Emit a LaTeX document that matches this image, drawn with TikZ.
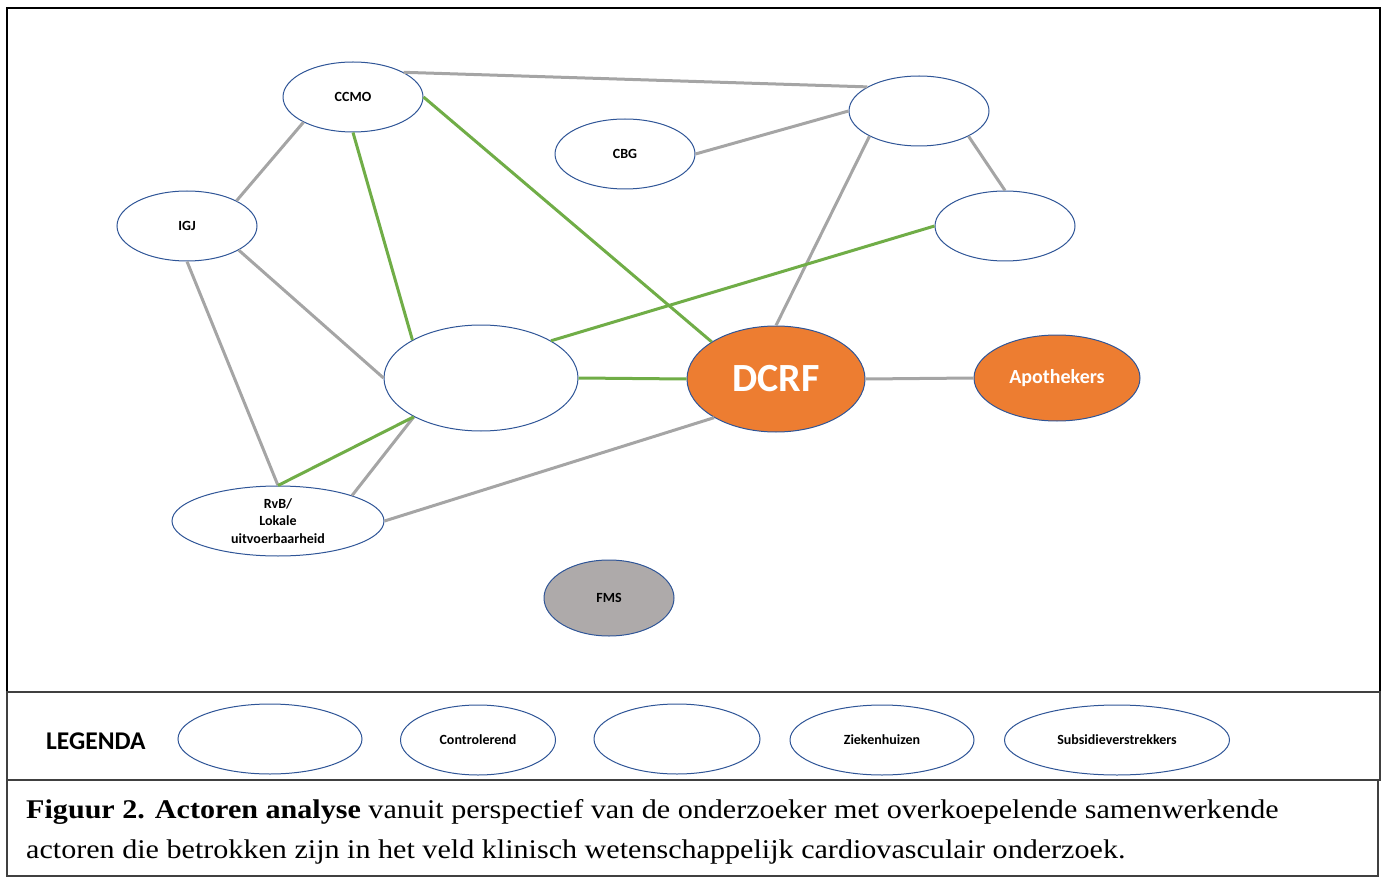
\documentclass[tikz,border=0pt]{standalone}
\usepackage{fontspec}
\setmainfont{Liberation Serif}
\newfontfamily\capfont[FakeStretch=1.115]{Liberation Serif}
\newfontfamily\calfont{Carlito}
\usetikzlibrary{shapes.geometric}
\definecolor{edgeblue}{HTML}{2F5597}
\definecolor{lgray}{HTML}{A5A5A5}
\definecolor{lgreen}{HTML}{70AD47}
\definecolor{orng}{HTML}{ED7D31}
\definecolor{fmsgray}{HTML}{AEAAAA}
\definecolor{framegray}{HTML}{404040}
\tikzset{
  actor/.style={ellipse, draw=edgeblue, line width=1pt, fill=white, inner sep=0pt,
    font=\calfont\bfseries\fontsize{14}{17.5}\selectfont, align=center},
  gl/.style={draw=lgray, line width=3pt},
  gn/.style={draw=lgreen, line width=3pt},
  captext/.style={anchor=base west, inner sep=0pt, font=\capfont\fontsize{27}{32}\selectfont},
}
\begin{document}
\begin{tikzpicture}[x=1pt,y=-1pt]
\useasboundingbox (0,0) rectangle (1381,877);
% frames
\draw[line width=2pt, black] (7,8) rectangle (1380,692);
\draw[line width=2pt, framegray] (7,692) rectangle (1380,780);
\draw[line width=1.5pt, framegray] (7,780) rectangle (1378,876);
% nodes
\node[actor, minimum width=140pt, minimum height=70pt] (ccmo) at (353,97) {CCMO};
\node[actor, minimum width=140pt, minimum height=70pt] (cbg) at (625,154) {CBG};
\node[actor, minimum width=140pt, minimum height=70pt] (tr) at (919,111) {};
\node[actor, minimum width=140pt, minimum height=70pt] (re) at (1005,226) {};
\node[actor, minimum width=140pt, minimum height=70pt] (igj) at (187,226) {IGJ};
\node[actor, minimum width=194pt, minimum height=106pt] (big) at (481,378) {};
\node[actor, fill=orng, text=white, minimum width=178pt, minimum height=106pt,
      font=\calfont\bfseries\fontsize{40}{42}\selectfont] (dcrf) at (776,379) {DCRF};
\node[actor, fill=orng, text=white, minimum width=166pt, minimum height=86pt,
      font=\calfont\bfseries\fontsize{20}{22}\selectfont] (apo) at (1057,378) {Apothekers};
\node[actor, minimum width=212pt, minimum height=70pt] (rvb) at (278,521) {RvB/\\Lokale\\uitvoerbaarheid};
\node[actor, fill=fmsgray, minimum width=130pt, minimum height=76pt] (fms) at (609,598) {FMS};
% gray connectors
\draw[gl] (ccmo.26) -- (tr.155);
\draw[gl] (cbg.east) -- (tr.west);
\draw[gl] (ccmo.207) -- (igj.27);
\draw[gl] (tr.207) -- (dcrf.north);
\draw[gl] (tr.333) -- (re.north);
\draw[gl] (igj.335) -- (big.west);
\draw[gl] (igj.south) -- (rvb.north);
\draw[gl] (big.210) -- (rvb.19);
\draw[gl] (rvb.east) -- (dcrf.212);
\draw[gl] (dcrf.east) -- (apo.west);
% green connectors
\draw[gn] (ccmo.east) -- (dcrf.150);
\draw[gn] (ccmo.south) -- (big.151);
\draw[gn] (big.28) -- (re.west);
\draw[gn] (big.east) -- (dcrf.west);
\draw[gn] (big.210) -- (rvb.north);
% legend
\node[font=\calfont\bfseries\fontsize{25.5}{27}\selectfont, anchor=west, inner sep=0pt] (leg) at (46,741) {LEGENDA};
\node[actor, minimum width=184pt, minimum height=70pt] (l1) at (270,739) {};
\node[actor, minimum width=155pt, minimum height=70pt] (l2) at (478,740) {Controlerend};
\node[actor, minimum width=166pt, minimum height=70pt] (l3) at (677,739) {};
\node[actor, minimum width=184pt, minimum height=70pt] (l4) at (882,740) {Ziekenhuizen};
\node[actor, minimum width=225pt, minimum height=70pt] (l5) at (1117,740) {Subsidieverstrekkers};
% caption
\node[captext] (cap1) at (26,818)
  {\textbf{Figuur 2. Actoren analyse} vanuit perspectief van de onderzoeker met overkoepelende samenwerkende};
\node[captext] (cap2) at (26,858)
  {actoren die betrokken zijn in het veld klinisch wetenschappelijk cardiovasculair onderzoek.};
\end{tikzpicture}
\end{document}
